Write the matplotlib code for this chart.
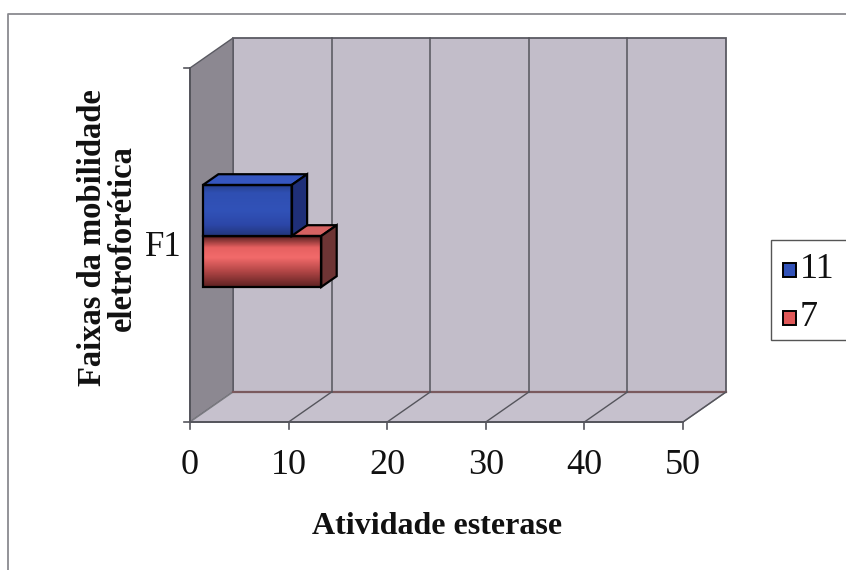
import numpy as np
import matplotlib
matplotlib.use("Agg")
import matplotlib.pyplot as plt
from matplotlib.patches import Polygon, Rectangle
from matplotlib.colors import LinearSegmentedColormap

# data
categories = ["F1"]
series_names = ["11", "7"]
series_values = [9, 12]
x_ticks = [0, 10, 20, 30, 40, 50]
x_max = 50

plt.rcParams["font.family"] = ["Liberation Serif", "DejaVu Serif"]

W, H_PX = 846, 570
fig = plt.figure(figsize=(W / 100, H_PX / 100), dpi=100)
ax = fig.add_axes([0, 0, 1, 1])

# pixel layout of the 3d box (front plane origin, scale, depth offset)
X0, Y0 = 190, 422
SX, SY = 9.86, 354
DEPTH_DX, DEPTH_DY = 43, 30

ax.set_xlim(-X0 / SX, (W - X0) / SX)
ax.set_ylim((Y0 - H_PX) / SY, Y0 / SY)
ax.axis("off")

DX, DY = DEPTH_DX / SX, DEPTH_DY / SY


def proj(v, h, d):
    return (v + d * DX, h + d * DY)


def fx(px):
    return px / W


def fy(py):
    return 1 - py / H_PX


# walls
back = [proj(0, 0, 1), proj(x_max, 0, 1), proj(x_max, 1, 1), proj(0, 1, 1)]
left = [proj(0, 0, 0), proj(0, 0, 1), proj(0, 1, 1), proj(0, 1, 0)]
floor = [proj(0, 0, 0), proj(x_max, 0, 0), proj(x_max, 0, 1), proj(0, 0, 1)]
ax.add_patch(Polygon(back, closed=True, fc="#c2bdc9", ec="#5a5a62", lw=1.3, zorder=1))
ax.add_patch(Polygon(left, closed=True, fc="#8c8891", ec="#5a5a62", lw=1.0, zorder=1))
ax.add_patch(Polygon(floor, closed=True, fc="#c6c1cd", ec="#7a7a80", lw=1.0, zorder=1))
ax.plot(*zip(proj(0, 0, 1), proj(x_max, 0, 1)), color="#7a5a5e", lw=1.6, zorder=2)

# gridlines on back wall and floor
for t in x_ticks[1:-1]:
    ax.plot(*zip(proj(t, 0, 1), proj(t, 1, 1)), color="#55555c", lw=1.1, zorder=2)
for t in x_ticks[1:]:
    ax.plot(*zip(proj(t, 0, 0), proj(t, 0, 1)), color="#55555c", lw=1.0, zorder=2)

# axes lines and ticks
ax.plot([0, x_max], [0, 0], color="#55555c", lw=1.4, zorder=3)
ax.plot([0, 0], [0, 1], color="#55555c", lw=1.4, zorder=3)
for t in x_ticks:
    ax.plot([t, t], [0, -7 / SY], color="#55555c", lw=1.2, zorder=3)
    ax.text(t, -44 / SY, str(t), ha="center", va="center", fontsize=26, color="#111111")
for h in [0, 1]:
    ax.plot([0, -6 / SX], [h, h], color="#55555c", lw=1.2, zorder=3)
ax.text(-8 / SX, 0.5 - 2 / SY, categories[0], ha="right", va="center", fontsize=25, color="#111111")

# bars
bar_h = 0.144
d0, d1 = 0.30, 0.66
red_cmap = LinearSegmentedColormap.from_list(
    "red", [(0, "#5e2222"), (0.3, "#b04545"), (0.58, "#f26a6a"), (0.78, "#e66060"), (1, "#5a2020")])
blue_cmap = LinearSegmentedColormap.from_list(
    "blue", [(0, "#22357a"), (0.22, "#2c47a8"), (0.5, "#3152b8"), (0.85, "#2f4fb2"), (1, "#26408f")])
face_styles = [
    (blue_cmap, "#3556bf", "#1f2f78"),
    (red_cmap, "#d66262", "#6e3434"),
]
grad = np.linspace(1, 0, 100).reshape(-1, 1)
for i in [1, 0]:
    val = series_values[i]
    h0 = 0.5 - bar_h + (1 - i) * bar_h
    h1 = h0 + bar_h
    cmap, top_c, side_c = face_styles[i]
    fx0, fy0 = proj(0, h0, d0)
    fx1, fy1 = proj(val, h1, d0)
    ax.imshow(grad, cmap=cmap, extent=[fx0, fx1, fy0, fy1], aspect="auto",
              interpolation="bilinear", zorder=4 + (1 - i) * 2)
    ax.add_patch(Rectangle((fx0, fy0), fx1 - fx0, fy1 - fy0, fc="none", ec="black",
                           lw=1.6, zorder=4.5 + (1 - i) * 2))
    top = [proj(0, h1, d0), proj(val, h1, d0), proj(val, h1, d1), proj(0, h1, d1)]
    side = [proj(val, h0, d0), proj(val, h1, d0), proj(val, h1, d1), proj(val, h0, d1)]
    ax.add_patch(Polygon(top, closed=True, fc=top_c, ec="black", lw=1.6, zorder=4 + (1 - i) * 2))
    ax.add_patch(Polygon(side, closed=True, fc=side_c, ec="black", lw=1.6, zorder=4 + (1 - i) * 2))

# axis titles
fig.text(fx(437), fy(527), "Atividade esterase", ha="center", va="center",
         fontsize=23, fontweight="bold", color="#111111")
fig.text(fx(107), fy(238), "Faixas da mobilidade\neletroforética", ha="center", va="center",
         rotation=90, fontsize=23.5, fontweight="bold", color="#111111", linespacing=0.95)

# legend
fig.patches.append(Rectangle((fx(771), fy(340)), fx(90), fy(240) - fy(340),
                             transform=fig.transFigure, fc="white", ec="#555555", lw=1.0))
legend_colors = ["#3152b8", "#e05858"]
for k, (name, c) in enumerate(zip(series_names, legend_colors)):
    yc = 270 + k * 48
    fig.patches.append(Rectangle((fx(783), fy(yc + 7)), fx(13), fy(yc - 7) - fy(yc + 7),
                                 transform=fig.transFigure, fc=c, ec="black", lw=1.4))
    fig.text(fx(800), fy(yc - 1), name, ha="left", va="center", fontsize=26, color="#111111")

# outer frame
fig.add_artist(plt.Line2D([fx(8), fx(8), 1], [0, fy(14), fy(14)], transform=fig.transFigure,
                          color="#8a8a90", lw=1.3))

fig.savefig("out.png", dpi=100)
